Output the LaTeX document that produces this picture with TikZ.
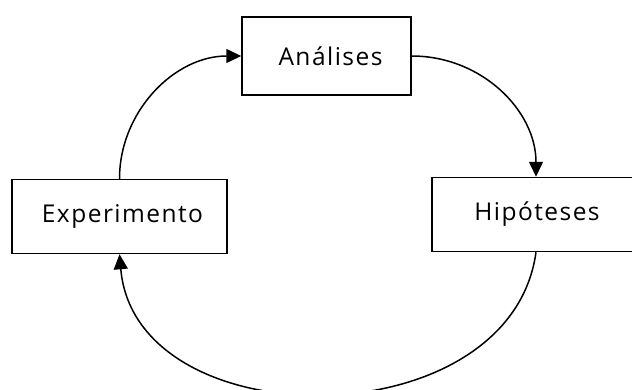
\documentclass[tikz,border=0pt]{standalone}
\usepackage{fontspec}
\setmainfont{Open Sans}[LetterSpace=6]
\usetikzlibrary{arrows.meta}
\begin{document}
\begin{tikzpicture}[x=1pt,y=-1pt,
  box/.style={draw,line width=1.5pt,rectangle,inner sep=0pt,font=\fontsize{24.5}{28}\selectfont},
  conn/.style={line width=1.5pt,-{Triangle[length=15pt,width=14pt]}}]
\useasboundingbox (0,0) rectangle (632,389);
\node[box,minimum width=169pt,minimum height=78pt] (ana) at (326.5,56) {\hspace{8pt}Análises};
\node[box,minimum width=208pt,minimum height=74pt] (hip) at (536,214.5) {\hspace{2pt}Hipóteses};
\node[box,minimum width=215pt,minimum height=74pt] (exp) at (119.5,216.5) {\hspace{6pt}Experimento};
\draw[conn] (ana.east) .. controls +(70,0) and +(0,-66) .. (hip.north);
\draw[conn] (hip.south) .. controls +(-26,188) and +(16,186) .. (exp.south);
\draw[conn] (exp.north) .. controls +(0,-67) and +(-67,0) .. (ana.west);
\end{tikzpicture}
\end{document}
